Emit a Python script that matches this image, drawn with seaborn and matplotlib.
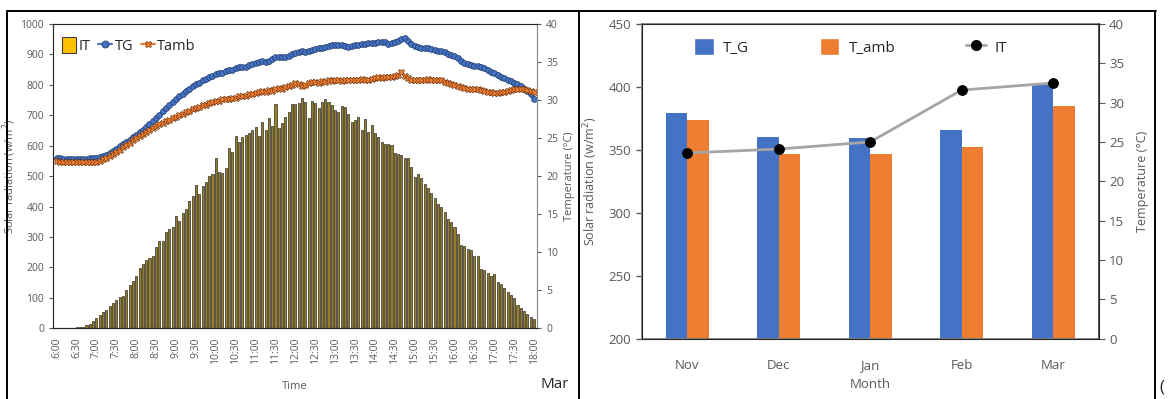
import numpy as np
import pandas as pd
import matplotlib.pyplot as plt
import seaborn as sns
from matplotlib.patches import Patch
from matplotlib.lines import Line2D

sns.set_style('white')
plt.rcParams['font.family'] = ['Open Sans', 'DejaVu Sans']

###################### Data ######################
# daily profile, 5-minute steps from 6:00 to 18:00
times = [f'{6 + m // 60}:{m % 60:02d}' for m in range(0, 725, 5)]

it_vals = [2, 2, 2, 2, 2, 2, 3, 3,
           5, 10, 15, 23, 33, 44, 52, 60,
           73, 84, 93, 104, 107, 126, 142, 157,
           172, 197, 211, 225, 232, 239, 268, 288,
           287, 316, 325, 334, 368, 351, 379, 391,
           419, 436, 471, 440, 468, 482, 502, 507,
           559, 515, 509, 526, 591, 580, 632, 613,
           628, 635, 641, 652, 663, 632, 677, 652,
           690, 666, 737, 657, 674, 696, 712, 737,
           737, 740, 756, 745, 690, 747, 739, 725,
           745, 754, 745, 734, 717, 712, 731, 728,
           704, 677, 683, 694, 652, 688, 646, 668,
           641, 628, 613, 606, 605, 603, 575, 573,
           569, 559, 561, 531, 497, 506, 493, 474,
           460, 444, 427, 408, 400, 383, 358, 350,
           332, 310, 274, 271, 260, 257, 239, 238,
           194, 192, 181, 172, 179, 151, 145, 131,
           120, 110, 99, 77, 66, 57, 47, 38, 30]

tg_vals = [22.4, 22.4, 22.3, 22.3, 22.3, 22.3, 22.3, 22.3, 22.3, 22.3, 22.4, 22.4,
           22.4, 22.5, 22.6, 22.8, 23.0, 23.3, 23.6, 23.9, 24.2, 24.5, 24.8, 25.1,
           25.4, 25.8, 26.1, 26.5, 26.9, 27.3, 27.7, 28.1, 28.5, 28.9, 29.3, 29.7,
           30.1, 30.5, 30.8, 31.2, 31.5, 31.8, 32.1, 32.3, 32.6, 32.8, 33.0, 33.2,
           33.4, 33.5, 33.6, 33.8, 33.9, 34.0, 34.2, 34.3, 34.3, 34.4, 34.6, 34.7,
           34.9, 35.0, 35.1, 35.0, 35.2, 35.4, 35.6, 35.7, 35.7, 35.6, 35.8, 36.0,
           36.2, 36.3, 36.4, 36.3, 36.5, 36.6, 36.7, 36.8, 36.9, 37.0, 37.1, 37.2,
           37.2, 37.3, 37.2, 37.1, 37.0, 37.1, 37.2, 37.3, 37.4, 37.4, 37.5, 37.5,
           37.5, 37.6, 37.6, 37.7, 37.4, 37.5, 37.7, 37.8, 38.0, 38.1, 37.8, 37.4,
           37.1, 37.0, 36.9, 36.9, 36.8, 36.7, 36.6, 36.5, 36.4, 36.3, 36.1, 35.9,
           35.8, 35.5, 35.2, 34.9, 34.7, 34.6, 34.5, 34.5, 34.4, 34.2, 34.0, 33.7,
           33.5, 33.3, 33.1, 32.9, 32.7, 32.5, 32.3, 32.1, 31.8, 31.5, 31.2, 30.8,
           30.2]

tamb_vals = [22.0, 21.9, 21.8, 21.8, 21.8, 21.8, 21.8, 21.8, 21.8, 21.8, 21.8, 21.9,
             21.9, 22.0, 22.2, 22.4, 22.6, 22.9, 23.2, 23.5, 23.8, 24.1, 24.4, 24.7,
             25.0, 25.3, 25.6, 25.8, 26.1, 26.3, 26.6, 26.8, 27.0, 27.2, 27.4, 27.6,
             27.8, 28.0, 28.2, 28.4, 28.6, 28.8, 28.9, 29.1, 29.3, 29.4, 29.6, 29.8,
             29.9, 29.9, 30.1, 30.2, 30.1, 30.3, 30.3, 30.5, 30.6, 30.6, 30.8, 30.8,
             30.9, 31.0, 31.2, 31.1, 31.3, 31.2, 31.5, 31.6, 31.5, 31.7, 31.8, 32.0,
             32.2, 32.1, 31.9, 32.0, 32.3, 32.4, 32.4, 32.3, 32.5, 32.4, 32.6, 32.5,
             32.6, 32.6, 32.5, 32.7, 32.6, 32.6, 32.6, 32.7, 32.8, 32.7, 32.7, 32.8,
             32.9, 33.0, 32.9, 33.0, 33.1, 33.1, 33.2, 33.3, 33.7, 33.2, 32.9, 32.7,
             32.6, 32.7, 32.6, 32.7, 32.8, 32.7, 32.7, 32.6, 32.6, 32.4, 32.2, 32.1,
             32.0, 31.8, 31.7, 31.6, 31.5, 31.5, 31.4, 31.4, 31.3, 31.2, 31.1, 31.0,
             30.9, 30.9, 31.0, 31.1, 31.2, 31.3, 31.4, 31.5, 31.5, 31.4, 31.3, 31.2,
             31.1]

# monthly averages
months = ['Nov', 'Dec', 'Jan', 'Feb', 'Mar']
tg_month = [379, 360, 359.5, 365.5, 402.5]
tamb_month = [373.5, 346.5, 347, 352.5, 385]
it_month = [23.6, 24.1, 25.0, 31.6, 32.5]

gray = '#595959'
blue = '#4472C4'
orange = '#ED7D31'

fig = plt.figure(figsize=(11.68, 3.99), dpi=100)

###################### Left: daily profile ######################
ax1 = fig.add_axes([0.0454, 0.1772, 0.4144, 0.7626])
day = pd.DataFrame({'Time': times, 'IT': it_vals})
sns.barplot(data=day, x='Time', y='IT', color='#9A7E22', width=0.62,
            edgecolor='#2b2b2b', linewidth=0.5, saturation=1, ax=ax1)
ax1.set_xlim(-1.1, len(times) - 0.1)
ax1.set_ylim(0, 1000)
ax1.set_yticks(range(0, 1001, 100))
ax1.set_xticks(range(0, len(times), 6))
ax1.set_xticklabels(times[::6], rotation=90)
ax1.set_xticks(range(0, len(times), 2), minor=True)
ax1.tick_params(axis='both', which='both', direction='out', colors=gray,
                labelsize=7.5, length=3, width=0.8)
ax1.tick_params(axis='x', which='minor', length=3)
ax1.set_xlabel('Time', fontsize=8, color=gray, labelpad=12)
ax1.set_ylabel('Solar radiation (w/m$^2$)', fontsize=8, color=gray)
ax1.yaxis.set_label_coords(-0.072, 0.5)
for s in ['left', 'top', 'right']:
    ax1.spines[s].set_color('#8c8c8c')
ax1.spines['bottom'].set_color('#404040')

ax1b = ax1.twinx()
idx = np.arange(len(times))
sns.lineplot(x=idx, y=tg_vals, color=blue, marker='o', markersize=4.2,
             markeredgecolor='#203864', markeredgewidth=0.5, linewidth=1.2, ax=ax1b)
sns.lineplot(x=idx, y=tamb_vals, color=orange, marker='X', markersize=4.6,
             markeredgecolor='#5a2a08', markeredgewidth=0.4, linewidth=1.2, ax=ax1b)
ax1b.set_ylim(0, 40)
ax1b.set_yticks(range(0, 41, 5))
ax1b.tick_params(axis='y', direction='out', colors=gray, labelsize=7.5, length=3)
ax1b.set_ylabel('Temperature (°C)', fontsize=8, color=gray, labelpad=4)
ax1b.spines['right'].set_color('#8c8c8c')

handles1 = [Patch(facecolor='#FFC000', edgecolor='#404040', linewidth=0.8),
            Line2D([], [], color=blue, marker='o', markersize=5,
                   markeredgecolor='#203864', markeredgewidth=0.6),
            Line2D([], [], color=orange, marker='X', markersize=5,
                   markeredgecolor='#5a2a08', markeredgewidth=0.4)]
ax1b.legend(handles1, ['IT', 'TG', 'Tamb'], loc='upper left', ncol=3, frameon=False,
            fontsize=10.5, handlelength=1.0, handleheight=1.3, handletextpad=0.15,
            columnspacing=0.5, borderaxespad=0.2, bbox_to_anchor=(0.0, 0.985))

###################### Right: monthly averages ######################
ax2 = fig.add_axes([0.5494, 0.1516, 0.3913, 0.7882])
mon = pd.DataFrame({'Month': months * 2,
                    'value': tg_month + tamb_month,
                    'series': ['T_G'] * len(months) + ['T_amb'] * len(months)})
sns.barplot(data=mon, x='Month', y='value', hue='series', palette=[blue, orange],
            width=0.47, gap=0, saturation=1, linewidth=0, legend=False, ax=ax2)
ax2.set_xlim(-0.5, len(months) - 0.5)
ax2.set_ylim(200, 450)
ax2.set_yticks(range(200, 451, 50))
ax2.set_xticks(np.arange(-0.5, len(months), 1.0), minor=True)
ax2.tick_params(axis='both', which='both', direction='out', colors=gray,
                labelsize=9.5, length=4, width=1)
ax2.tick_params(axis='x', which='major', pad=11)
ax2.set_xlabel('Month', fontsize=9.5, color=gray, labelpad=4)
ax2.set_ylabel('Solar radiation (w/m$^2$)', fontsize=9, color=gray, labelpad=6)
for s in ['left', 'top', 'bottom']:
    ax2.spines[s].set_color('#808080')
    ax2.spines[s].set_linewidth(1.3)

ax2b = ax2.twinx()
sns.lineplot(x=np.arange(len(months)), y=it_month, color='#A5A5A5', linewidth=2,
             marker='o', markersize=7, markerfacecolor='black',
             markeredgecolor='black', ax=ax2b)
ax2b.set_ylim(0, 40)
ax2b.set_yticks(range(0, 41, 5))
ax2b.tick_params(axis='y', direction='out', colors=gray, labelsize=9.5, length=4)
ax2b.set_ylabel('Temperature (°C)', fontsize=9, color=gray, labelpad=8)
ax2b.spines['right'].set_color('#262626')
ax2b.spines['right'].set_linewidth(1.1)

handles2 = [Patch(facecolor=blue), Patch(facecolor=orange),
            Line2D([], [], color='#A5A5A5', linewidth=2, marker='o', markersize=7,
                   markerfacecolor='black', markeredgecolor='black')]
ax2b.legend(handles2, ['T_G', 'T_amb', 'IT'], loc='upper left', ncol=3, frameon=False,
            fontsize=11, handlelength=1.3, handleheight=1.4, handletextpad=0.6,
            columnspacing=4.6, bbox_to_anchor=(0.085, 1.0))

###################### Table frame and stray document text ######################
def px_line(x0, y0, x1, y1, lw=1.4):
    fig.add_artist(Line2D([x0 / 1168, x1 / 1168], [1 - y0 / 399, 1 - y1 / 399],
                          color='black', linewidth=lw, transform=fig.transFigure))

px_line(7, 10.5, 1156, 10.5)
px_line(7, 10.5, 7, 399)
px_line(579, 10.5, 579, 399)
px_line(1155, 10.5, 1155, 399)
fig.text(555 / 1168, 1 - 385 / 399, 'Mar', fontsize=11, ha='center', va='center')
fig.text(1159 / 1168, 1 - 387 / 399, '(', fontsize=12, ha='left', va='center')

plt.savefig('out.png', dpi=100)
